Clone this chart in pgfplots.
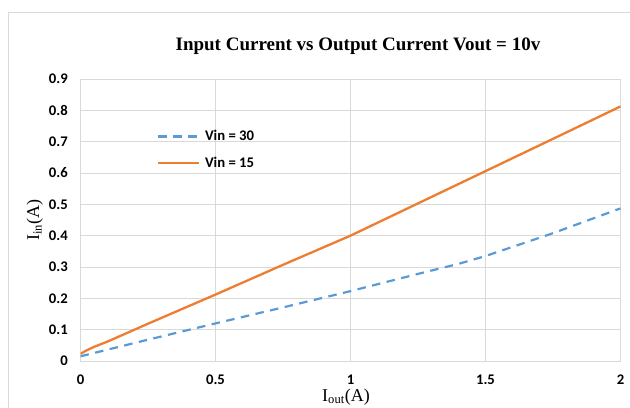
\documentclass[border=0pt]{standalone}
\usepackage{fontspec}
\setmainfont{Liberation Serif}
\newfontfamily\calibri{Carlito}
\usepackage{pgfplots}
\pgfplotsset{compat=1.18}
\definecolor{gridgray}{HTML}{D9D9D9}
\definecolor{exblue}{HTML}{5B9BD5}
\definecolor{exorange}{HTML}{ED7D31}
\newcommand{\tickfont}{\calibri\bfseries\fontsize{14.7bp}{17bp}\selectfont}
\begin{document}
\begin{tikzpicture}
\useasboundingbox (0,0) rectangle (630bp,408bp);
% chart area frame
\draw[gridgray, line width=0.9bp] (8bp,-20bp) -- (8bp,396bp) -- (720bp,396bp);
\begin{axis}[
  at={(80.5bp,47bp)}, anchor=south west,
  width=540bp, height=282bp, scale only axis,
  xmin=0, xmax=2, ymin=0, ymax=0.9,
  xtick={0,0.5,1,1.5,2}, xticklabels={0,0.5,1,1.5,2},
  ytick={0,0.1,0.2,0.3,0.4,0.5,0.6,0.7,0.8,0.9},
  yticklabels={0,0.1,0.2,0.3,0.4,0.5,0.6,0.7,0.8,0.9},
  grid=major, major grid style={gridgray, line width=1bp},
  axis line style={gridgray, line width=1bp},
  major tick length=0pt,
  tick label style={font=\tickfont, inner sep=0pt, /pgf/number format/assume math mode=true},
  xticklabel style={anchor=north, yshift=-14bp},
  yticklabel style={anchor=east, xshift=-12.5bp},
  legend cell align=left,
  legend image code/.code={\draw[#1] (0bp,0bp) -- (41bp,0bp);},
  legend style={draw=none, fill=none, inner sep=0pt,
    at={(axis description cs:0.1417,0.818)}, anchor=north west,
    row sep=14.5bp, column sep=4.5bp, nodes={inner sep=0pt},
    font=\tickfont},
]
\addplot[exblue, line width=2.2bp, dash pattern=on 8.5bp off 6.5bp] coordinates {
  (0,0.015) (0.25,0.068) (0.5,0.120) (0.75,0.171) (1,0.223)
  (1.25,0.278) (1.4,0.310) (1.5,0.335) (1.75,0.408) (2,0.487)
};
\addlegendentry{Vin = 30}
\addplot[exorange, line width=2.3bp, line join=round] coordinates {
  (0,0.023) (0.025,0.035) (0.05,0.045) (0.1,0.062) (0.25,0.119)
  (0.5,0.212) (0.75,0.307) (1,0.400) (1.25,0.503) (1.5,0.606)
  (1.75,0.709) (2,0.8125)
};
\addlegendentry{Vin = 15}
\end{axis}
\node[anchor=base, font=\bfseries\fontsize{19bp}{22bp}\selectfont] at (358bp,357bp)
  {Input Current vs Output Current Vout = 10v};
\node[anchor=base, rotate=90, font=\fontsize{18bp}{20bp}\selectfont] at (39bp,188bp)
  {I\textsubscript{in}(A)};
\node[anchor=base, font=\fontsize{18bp}{20bp}\selectfont] at (346bp,7bp)
  {I\textsubscript{out}(A)};
\end{tikzpicture}
\end{document}
